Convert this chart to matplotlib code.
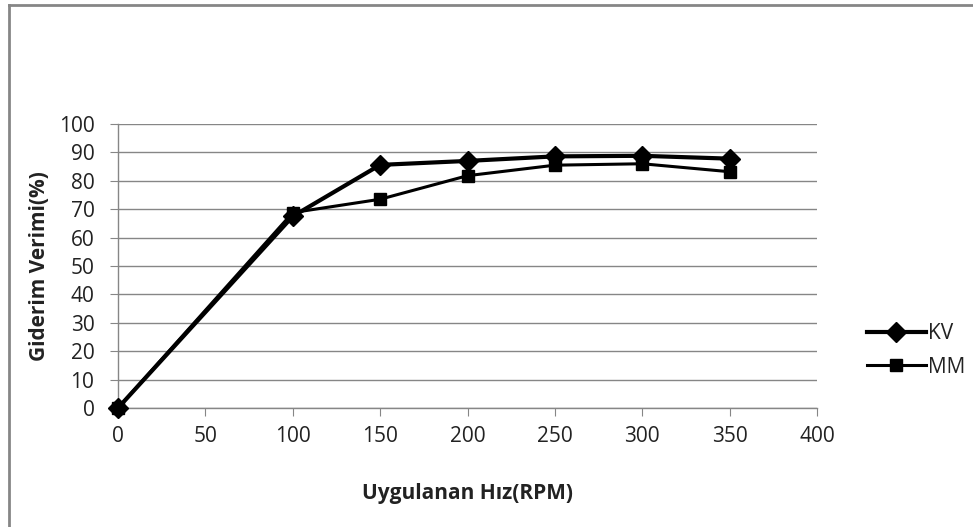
import matplotlib.pyplot as plt
import numpy as np
from matplotlib.lines import Line2D

plt.rcParams['font.family'] = ['Open Sans', 'DejaVu Sans']

rpm = [0, 100, 150, 200, 250, 300, 350]
kv = [0, 67.5, 85.6, 87.0, 88.6, 88.8, 87.8]
mm = [0, 68.8, 73.5, 81.8, 85.5, 86.0, 83.2]

x_ticks = np.arange(0, 401, 50)
y_ticks = np.arange(0, 101, 10)

fig = plt.figure(figsize=(9.73, 5.27), dpi=100)
ax = fig.add_axes([118 / 973, 119 / 527, 699 / 973, 284 / 527])

ax.plot(rpm, kv, color='black', lw=3, marker='D', ms=10, label='KV', zorder=3, clip_on=False)
ax.plot(rpm, mm, color='black', lw=2.2, marker='s', ms=9, label='MM', zorder=3, clip_on=False)

ax.set_xlim(0, 400)
ax.set_ylim(0, 100)
ax.set_xticks(x_ticks)
ax.set_yticks(y_ticks)
ax.grid(axis='y', color='#868686', lw=1)
ax.set_axisbelow(True)
for side in ['top', 'right']:
    ax.spines[side].set_visible(False)
for side in ['left', 'bottom']:
    ax.spines[side].set_color('#868686')
    ax.spines[side].set_linewidth(1)
ax.tick_params(axis='x', direction='out', length=6, color='#868686', labelsize=15,
               labelcolor='#222222', pad=7)
ax.tick_params(axis='y', direction='out', length=6, color='#868686', labelsize=15,
               labelcolor='#222222', pad=11)

ax.set_xlabel('Uygulanan Hız(RPM)', fontsize=15, fontweight='bold', labelpad=26,
              color='#222222')
ax.set_ylabel('Giderim Verimi(%)', fontsize=15, fontweight='bold', labelpad=6,
              color='#222222')

handles = [Line2D([], [], color='black', lw=3, marker='D', ms=10),
           Line2D([], [], color='black', lw=2.2, marker='s', ms=9)]
fig.legend(handles, ['KV', 'MM'], loc='center left', bbox_to_anchor=(0.872, 0.335),
           frameon=False, fontsize=15, handlelength=2.8, handletextpad=0.1,
           labelspacing=0.6, labelcolor='#222222')

# chart-area border (left and top edges only)
fig.add_artist(Line2D([9 / 973, 9 / 973], [0, 1 - 5 / 527], transform=fig.transFigure,
                      color='#868686', lw=2))
fig.add_artist(Line2D([9 / 973, 1], [1 - 5 / 527, 1 - 5 / 527], transform=fig.transFigure,
                      color='#868686', lw=2))

fig.savefig('out.png', dpi=100)
